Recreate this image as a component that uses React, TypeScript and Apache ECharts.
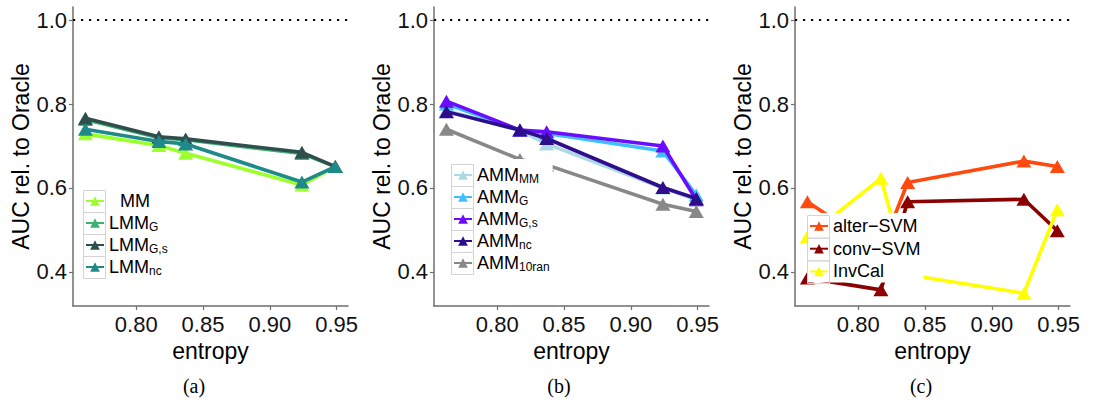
import React, { useEffect, useRef } from "react";
import * as echarts from "echarts";

// ---------- data ----------
const entropy = [0.762, 0.817, 0.837, 0.924, 0.949];
const xTicks = [0.8, 0.85, 0.9, 0.95];
const yTicks = [0.4, 0.6, 0.8, 1.0];
const oracleLevel = 1.0;

// panel (a)
const mm = [0.729, 0.701, 0.683, 0.607, 0.651];
const lmmG = [0.763, 0.72, 0.715, 0.682, 0.651];
const lmmGs = [0.766, 0.722, 0.717, 0.685, 0.651];
const lmmNc = [0.74, 0.711, 0.705, 0.614, 0.651];

// panel (b)
const ammMM = [0.785, 0.737, 0.705, 0.6, 0.572];
const ammG = [0.8, 0.738, 0.73, 0.688, 0.583];
const ammGs = [0.807, 0.738, 0.734, 0.7, 0.572];
const ammNc = [0.782, 0.738, 0.718, 0.601, 0.575];
const amm10ran = [0.74, 0.668, 0.655, 0.561, 0.544];

// panel (c)
const alterSVM = [0.567, 0.45, 0.613, 0.664, 0.651];
const convSVM = [0.385, 0.357, 0.567, 0.573, 0.498];
const invCal = [0.484, 0.623, 0.393, 0.349, 0.548];

const panels = [
  {
    caption: "(a)",
    series: [
      { name: "MM", values: mm, color: "#9CFF2E" },
      { name: "LMM_G", values: lmmG, color: "#3CB371" },
      { name: "LMM_G,s", values: lmmGs, color: "#2F4F4F" },
      { name: "LMM_nc", values: lmmNc, color: "#1F8A8A" },
    ],
  },
  {
    caption: "(b)",
    series: [
      { name: "AMM_MM", values: ammMM, color: "#ADD8E6" },
      { name: "AMM_G", values: ammG, color: "#40BFFF" },
      { name: "AMM_G,s", values: ammGs, color: "#6A0DFF" },
      { name: "AMM_nc", values: ammNc, color: "#2E0E8C" },
      { name: "AMM_10ran", values: amm10ran, color: "#888888" },
    ],
  },
  {
    caption: "(c)",
    series: [
      { name: "alter\u2212SVM", values: alterSVM, color: "#FF4A0F" },
      { name: "conv\u2212SVM", values: convSVM, color: "#8B0000" },
      { name: "InvCal", values: invCal, color: "#FFFF00" },
    ],
  },
];

// ---------- layout ----------
const FONT = "Liberation Sans, Arial, Helvetica, sans-serif";
const GRID_LEFT = [73, 434, 795];
const GRID_W = 275;
const GRID_TOP = 7;
const GRID_H = 299;
const X_MIN = 0.7527;
const X_MAX = 0.9585;
const Y_MIN = 0.3185;
const Y_MAX = 1.0315;
const LEGEND_POS = [
  { left: 83, keyTop: 190, padTop: 2, pitch: 22 },
  { left: 451, keyTop: 164, padTop: 5, pitch: 22 },
  { left: 807, keyTop: 215, padTop: 2, pitch: 22.7 },
];
const CAPTION_X = [194, 559, 921];
const CAPTION_Y = 386;

export default function App() {
  const ref = useRef<HTMLDivElement>(null);

  useEffect(() => {
    document.body.style.margin = "0";
    const chart = echarts.init(ref.current!, null, { renderer: "svg" });
    const axisColor = "#6e6e6e";

    const grid = GRID_LEFT.map((l) => ({
      left: l,
      top: GRID_TOP,
      width: GRID_W,
      height: GRID_H,
    }));

    const xAxis = panels.map((_, i) => ({
      type: "value",
      gridIndex: i,
      min: X_MIN,
      max: X_MAX,
      splitLine: { show: false },
      axisLine: { show: true, lineStyle: { color: axisColor, width: 1.5 } },
      axisTick: {
        show: true,
        length: 4,
        customValues: xTicks,
        lineStyle: { color: axisColor, width: 1.2 },
      },
      axisLabel: {
        customValues: xTicks,
        formatter: (v: number) => v.toFixed(2),
        fontSize: 22,
        color: "#111",
        margin: 7,
        fontFamily: FONT,
      },
      name: "entropy",
      nameLocation: "middle",
      nameGap: 20,
      nameTextStyle: { fontSize: 23, color: "#000", fontFamily: FONT },
    }));

    const yAxis = panels.map((_, i) => ({
      type: "value",
      gridIndex: i,
      min: Y_MIN,
      max: Y_MAX,
      splitLine: { show: false },
      axisLine: { show: true, lineStyle: { color: axisColor, width: 1.5 } },
      axisTick: {
        show: true,
        length: 4,
        customValues: yTicks,
        lineStyle: { color: axisColor, width: 1.2 },
      },
      axisLabel: {
        customValues: yTicks,
        formatter: (v: number) => v.toFixed(1),
        fontSize: 22,
        color: "#111",
        margin: 6,
        fontFamily: FONT,
      },
      name: "AUC rel. to Oracle",
      nameLocation: "middle",
      nameGap: 38,
      nameRotate: 90,
      nameTextStyle: { fontSize: 23, color: "#000", fontFamily: FONT },
    }));

    const series: any[] = [];
    panels.forEach((p, i) => {
      p.series.forEach((s, j) => {
        series.push({
          type: "line",
          name: s.name,
          xAxisIndex: i,
          yAxisIndex: i,
          data: entropy.map((x, k) => [x, s.values[k]]),
          symbol: "triangle",
          symbolSize: [15, 13],
          showSymbol: true,
          color: s.color,
          lineStyle: { width: 3.6, color: s.color },
          itemStyle: { color: s.color },
          z: 2 + j * 0.01,
          markLine:
            j === 0
              ? {
                  silent: true,
                  symbol: "none",
                  label: { show: false },
                  lineStyle: { type: [2.2, 5.8], color: "#000", width: 2.2, cap: "butt" },
                  data: [{ yAxis: oracleLevel }],
                }
              : undefined,
        });
      });
    });

    const fmt = (name: string) => {
      const idx = name.indexOf("_");
      if (idx < 0) return name === "MM" ? `{m|${name}}` : `{n|${name}}`;
      return `{n|${name.slice(0, idx)}}{s|${name.slice(idx + 1)}}`;
    };

    const legend = panels.map((p, i) => {
      const L = LEGEND_POS[i];
      return {
        data: p.series.map((s) => s.name),
        orient: "vertical",
        left: L.left,
        top: L.keyTop - L.padTop,
        itemGap: L.pitch - 22,
        itemWidth: 18,
        itemHeight: 12,
        padding: [L.padTop, 3, 0, 2],
        backgroundColor: "#fff",
        selectedMode: false,
        formatter: fmt,
        textStyle: {
          fontFamily: FONT,
          fontSize: 18,
          color: "#000",
          lineHeight: 22,
          rich: {
            n: { fontSize: 18, lineHeight: 22, fontFamily: FONT, color: "#000" },
            m: { fontSize: 18, lineHeight: 22, fontFamily: FONT, color: "#000", padding: [0, 0, 0, 11] },
            s: { fontSize: 12, fontFamily: FONT, color: "#000", padding: [7, 0, 0, 0] },
          },
        },
      };
    });

    const graphic: any[] = [];
    panels.forEach((p, i) => {
      const L = LEGEND_POS[i];
      p.series.forEach((_, j) => {
        graphic.push({
          type: "rect",
          z: 10,
          silent: true,
          shape: { x: L.left + 0.5, y: L.keyTop + j * L.pitch + 0.5, width: 22, height: L.pitch },
          style: { fill: "none", stroke: "#d4d4d4", lineWidth: 1 },
        });
      });
      graphic.push({
        type: "text",
        x: CAPTION_X[i],
        y: CAPTION_Y,
        style: {
          text: p.caption,
          fontFamily: "Liberation Serif, Times New Roman, serif",
          fontSize: 20,
          fill: "#000",
          textAlign: "center",
          textVerticalAlign: "middle",
        },
      });
    });

    chart.setOption({
      animation: false,
      backgroundColor: "#fff",
      grid,
      xAxis,
      yAxis,
      legend,
      series,
      graphic,
    });
    return () => chart.dispose();
  }, []);

  return <div ref={ref} style={{ width: 1093, height: 406 }} />;
}
